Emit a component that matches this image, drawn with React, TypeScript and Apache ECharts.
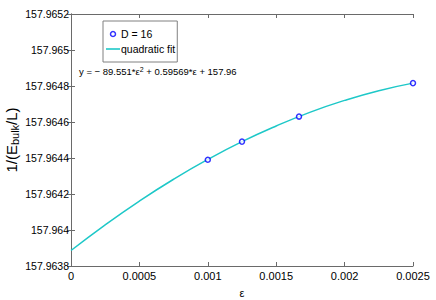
import React, { useEffect, useRef } from "react";
import * as echarts from "echarts";

const epsData = [0.001, 0.00125, 0.0016667, 0.0025];
const dData = [157.96439, 157.964491, 157.96463, 157.964816];

const fitEps = [0, 0.00025, 0.0005, 0.00075, 0.001, 0.00125, 0.0015, 0.00175, 0.002, 0.00225, 0.0025];
const fitVals = [157.963886, 157.964029, 157.964161, 157.964282, 157.964392, 157.964491, 157.964578, 157.964655, 157.96472, 157.964774, 157.964816];

const yMin = 157.9638;
const yMax = 157.9652;
const yStep = 0.0002;
const xMin = 0;
const xMax = 0.0025;
const xStep = 0.0005;

const FONT = "'Liberation Sans', Arial, Helvetica, sans-serif";

function fmtY(v: number) {
  return v.toFixed(4).replace(/0+$/, "").replace(/\.$/, "");
}

export default function App() {
  const ref = useRef<HTMLDivElement>(null);
  useEffect(() => {
    if (!ref.current) return;
    const chart = echarts.init(ref.current, null, { renderer: "svg" });
    const axisLine = { show: true, lineStyle: { color: "#6a6a6a", width: 1 } };
    const tick = { show: true, inside: true, length: 4, lineStyle: { color: "#6a6a6a" } };
    chart.setOption({
      animation: false,
      backgroundColor: "#ffffff",
      textStyle: { fontFamily: FONT },
      grid: { left: 71, right: 23, top: 14, bottom: 34, containLabel: false, outerBoundsMode: "none" },
      legend: {
        orient: "vertical",
        left: 103,
        top: 21,
        padding: [7, 2, 7, 3],
        itemGap: 3,
        itemWidth: 14,
        itemHeight: 5,
        symbolKeepAspect: true,
        borderColor: "#808080",
        borderWidth: 1,
        borderRadius: 0,
        backgroundColor: "#ffffff",
        textStyle: { fontFamily: FONT, fontSize: 10.5, lineHeight: 12, color: "#000", padding: [0, 0, 0, -4] },
        data: [
          {
            name: "D = 16",
            icon: "circle",
            itemStyle: { color: "#fff", borderColor: "#0000ff", borderWidth: 1.5 },
          },
          {
            name: "quadratic fit",
            icon: "path://M0,0H14V1.6H0Z",
            itemStyle: { color: "#1ec8c8", borderWidth: 0 },
          },
        ],
      },
      xAxis: [
        {
          type: "value",
          min: xMin,
          max: xMax,
          interval: xStep,
          position: "bottom",
          axisLine,
          axisTick: tick,
          splitLine: { show: false },
          axisLabel: {
            fontFamily: FONT,
            fontSize: 11,
            color: "#000",
            margin: 4,
            formatter: (v: number) => (v === 0 ? "0" : String(parseFloat(v.toFixed(4)))),
          },
          name: "ε",
          nameLocation: "middle",
          nameGap: 21,
          nameMoveOverlap: false,
          nameTextStyle: { fontFamily: FONT, fontSize: 11, color: "#000" },
        },
        {
          type: "value",
          min: xMin,
          max: xMax,
          interval: xStep,
          position: "top",
          axisLine,
          axisTick: tick,
          splitLine: { show: false },
          axisLabel: { show: false },
        },
      ],
      yAxis: [
        {
          type: "value",
          min: yMin,
          max: yMax,
          interval: yStep,
          position: "left",
          axisLine,
          axisTick: tick,
          splitLine: { show: false },
          axisLabel: {
            fontFamily: FONT,
            fontSize: 10.5,
            color: "#000",
            margin: 2,
            formatter: (v: number) => fmtY(v),
          },
          name: "1/(E{sub|bulk}/L)",
          nameLocation: "middle",
          nameGap: 51,
          nameRotate: 90,
          nameMoveOverlap: false,
          nameTextStyle: {
            fontFamily: FONT,
            fontSize: 15,
            color: "#000",
            rich: {
              sub: { fontFamily: FONT, fontSize: 11, verticalAlign: "bottom", padding: [6, 0, 0, 0] },
            },
          },
        },
        {
          type: "value",
          min: yMin,
          max: yMax,
          interval: yStep,
          position: "right",
          axisLine,
          axisTick: tick,
          splitLine: { show: false },
          axisLabel: { show: false },
        },
      ],
      graphic: [
        {
          type: "text",
          left: 79,
          top: 66,
          style: {
            text: "y = − 89.551*ε{sup|2} + 0.59569*ε + 157.96",
            fontFamily: FONT,
            fontSize: 9.5,
            fill: "#000",
            rich: {
              sup: { fontSize: 7, verticalAlign: "top", padding: [0, 0, 4, 0], fontFamily: FONT },
            },
          },
        },
      ],
      series: [
        {
          name: "quadratic fit",
          type: "line",
          smooth: true,
          showSymbol: false,
          symbol: "none",
          data: fitEps.map((e, i) => [e, fitVals[i]]),
          lineStyle: { color: "#1ec8c8", width: 1.5 },
          itemStyle: { color: "#1ec8c8" },
          z: 2,
        },
        {
          name: "D = 16",
          type: "scatter",
          symbol: "circle",
          symbolSize: 5,
          data: epsData.map((e, i) => [e, dData[i]]),
          itemStyle: { color: "#ffffff", borderColor: "#0000ff", borderWidth: 1.5 },
          z: 3,
        },
      ],
    });
    return () => chart.dispose();
  }, []);
  return <div ref={ref} style={{ width: 436, height: 300, position: "absolute", left: 0, top: 0 }} />;
}
